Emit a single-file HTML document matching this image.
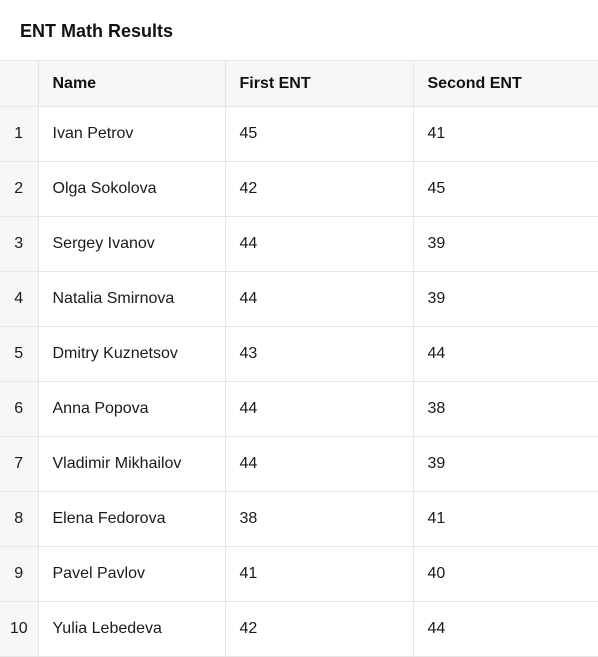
<!DOCTYPE html>
<html><head><meta charset="utf-8"><style>
body{margin:0;width:598px;height:653px;overflow:hidden;background:#fff;font-family:"Liberation Sans",sans-serif;color:#1a1a1a}
#title{position:absolute;left:20px;top:21px;font-size:18px;font-weight:bold;color:#111}
table{position:absolute;left:0;top:60px;border-collapse:collapse;width:599px;table-layout:fixed}
td,th{border:1px solid #e6e6e6;font-size:16px;padding:0 0 0 14px;text-align:left;white-space:nowrap}
th{height:45px;background:#f7f7f7;font-weight:bold;color:#111}
td{height:54px}
td.i,th.i{background:#f7f7f7;padding:0;text-align:center;border-left:none}
tr:first-child th{border-top:1px solid #e6e6e6}
</style></head><body>
<div id="title">ENT Math Results</div>
<table>
<colgroup><col style="width:38px"><col style="width:187px"><col style="width:188px"><col style="width:186px"></colgroup>
<thead><tr><th class="i"></th><th>Name</th><th>First ENT</th><th>Second ENT</th></tr></thead>
<tbody id="tb"></tbody></table>
<script>
const names=["Ivan Petrov","Olga Sokolova","Sergey Ivanov","Natalia Smirnova","Dmitry Kuznetsov","Anna Popova","Vladimir Mikhailov","Elena Fedorova","Pavel Pavlov","Yulia Lebedeva"];
const first=[45,42,44,44,43,44,44,38,41,42];
const second=[41,45,39,39,44,38,39,41,40,44];
const tb=document.getElementById('tb');
names.forEach((n,k)=>{
const tr=document.createElement('tr');


const vals=[k+1,n,first[k],second[k]];
const nm=['row-index','student-name','first-ent-score','second-ent-score'];
vals.forEach((v,j)=>{const td=document.createElement('td');if(j==0)td.className='i';td.textContent=v;


tr.appendChild(td);});
tb.appendChild(tr);});
</script>
</body></html>
